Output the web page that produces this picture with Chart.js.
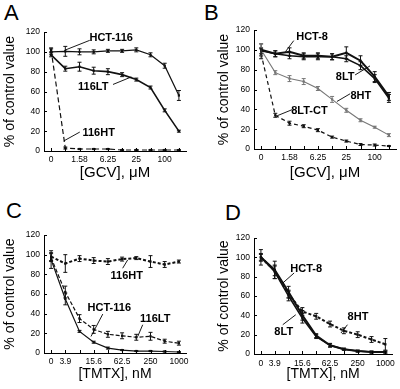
<!DOCTYPE html>
<html>
<head>
<meta charset="UTF-8">
<script src="https://cdn.jsdelivr.net/npm/chart.js"></script>
<style>
  body { margin: 0; width: 400px; height: 389px; position: relative; background: #fff; overflow: hidden;
         font-family: "Liberation Sans", Arial, sans-serif; }
  .letter { position: absolute; font-size: 22px; line-height: 22px; color: #000; }
  canvas { position: absolute; }
</style>
</head>
<body>
<div class="letter" style="left:4px;top:2px">A</div>
<div class="letter" style="left:204px;top:2px">B</div>
<div class="letter" style="left:6px;top:200px">C</div>
<div class="letter" style="left:225px;top:202px">D</div>
<canvas id="cA" width="200" height="195" style="left:0;top:0"></canvas>
<canvas id="cB" width="200" height="195" style="left:200px;top:0"></canvas>
<canvas id="cC" width="200" height="194" style="left:0;top:195px"></canvas>
<canvas id="cD" width="200" height="194" style="left:200px;top:195px"></canvas>
<script>
  // tick labels (10 concentrations each, only some labelled)
  const gcvTicks = ['0', '', '1.58', '', '6.25', '', '25', '', '100', ''];
  const tmtxTicks = ['0', '3.9', '', '15.6', '', '62.5', '', '250', '', '1000'];

  // A: GCV, HCT-116 lines
  const aHct116 = [100, 100.5, 100, 100, 101, 101, 102, 97, 86, 56];
  const aHct116Err = [3, 5, 3, 2, 1.5, 1.5, 2, 2, 2.5, 5];
  const a116LT = [97, 83, 85, 81, 80, 77, 72, 64, 41, 20];
  const a116LTErr = [2, 2.5, 4.5, 3.5, 3, 2, 1.5, 1.5, 1.5, 1];
  const a116HT = [102, 3, 2, 2, 2, 1, 1, 1, 1, 1];
  const a116HTErr = [2, 1, 0.5, 0.5, 0.5, 0.5, 0.5, 0.5, 0.5, 0.5];

  // B: GCV, HCT-8 lines
  const bHct8 = [100, 96, 98, 94, 94, 93, 97, 89, 73, 53];
  const bHct8Err = [6, 3, 4, 3, 3, 3, 6, 5, 5, 4];
  const b8LT = [99, 96, 94, 93, 93, 93, 91, 84, 71, 51];
  const b8LTErr = [3, 3, 3, 3, 3, 3, 3, 4, 4, 4];
  const b8HT = [100, 77, 71, 68, 61, 50, 39, 29, 22, 14];
  const b8HTErr = [6, 2, 3, 3, 2, 3, 2, 1.5, 1, 1.5];
  const b8LTCT = [96, 34, 26, 23, 19, 12, 8, 4.5, 4, 3];
  const b8LTCTErr = [5, 2, 2, 1.5, 1.5, 1, 1, 1, 1, 0.5];

  // C: TMTX, HCT-116 lines
  const c116HT = [98, 91, 96, 94, 93, 95.5, 96.5, 93, 90, 93];
  const c116HTErr = [4, 9, 3, 3, 3, 2, 1.5, 6, 3, 1.5];
  const c116LT = [97, 62, 35, 24, 19, 17.5, 16, 17, 12, 10];
  const c116LTErr = [4, 6, 4, 4, 3, 3, 3, 4, 2, 2];
  const cHct116 = [95, 55, 22, 11, 5, 3, 2, 2, 1.5, 1];
  const cHct116Err = [9, 6, 1, 1, 1, 0.5, 0.5, 0.5, 0.5, 0.5];

  // D: TMTX, HCT-8 lines
  const dHct8 = [100, 87, 64, 40, 19, 9, 5, 3, 2, 2];
  const dHct8Err = [8, 9, 6, 5, 2, 2, 1, 1, 1, 1];
  const d8LT = [100, 85, 60, 37, 18, 9, 5, 3, 2, 2];
  const d8LTErr = [4, 7, 5, 5, 2, 1.5, 1, 1, 1, 1];
  const d8HT = [100, 86, 62, 44, 39, 31, 24, 20, 15, 10];
  const d8HTErr = [3, 5, 4, 4, 3, 3, 3, 3, 3, 6];

  const FONT = '"Liberation Sans", Arial, sans-serif';
  const BLACK = '#111';

  const errorBars = {
    id: 'errorBars',
    afterDatasetsDraw(chart) {
      const { ctx, scales: { x, y } } = chart;
      chart.data.datasets.forEach(ds => {
        if (!ds.errors) return;
        ctx.save();
        ctx.strokeStyle = ds.borderColor;
        ctx.lineWidth = 1;
        ctx.beginPath();
        ds.data.forEach((v, j) => {
          const e = ds.errors[j];
          if (!e) return;
          const px = x.getPixelForValue(j);
          const top = y.getPixelForValue(v + e), bot = y.getPixelForValue(Math.max(0, v - e));
          ctx.moveTo(px, top); ctx.lineTo(px, bot);
          ctx.moveTo(px - 2, top); ctx.lineTo(px + 2, top);
          ctx.moveTo(px - 2, bot); ctx.lineTo(px + 2, bot);
        });
        ctx.stroke();
        ctx.restore();
      });
    }
  };

  // small tick marks pointing into the plot
  const innerTicks = {
    id: 'innerTicks',
    afterDraw(chart) {
      const { ctx, chartArea: a, scales: { x, y } } = chart;
      ctx.save();
      ctx.strokeStyle = '#000';
      ctx.lineWidth = 1;
      ctx.beginPath();
      for (let i = 0; i < 10; i++) {
        const px = Math.round(x.getPixelForValue(i)) + 0.5;
        ctx.moveTo(px, a.bottom); ctx.lineTo(px, a.bottom - 3);
      }
      y.ticks.forEach(t => {
        const py = Math.round(y.getPixelForValue(t.value)) + 0.5;
        ctx.moveTo(a.left, py); ctx.lineTo(a.left + 3, py);
      });
      ctx.stroke();
      ctx.restore();
    }
  };

  // series name labels with leader lines, placed in data units
  function callouts(list) {
    return {
      id: 'callouts',
      afterDraw(chart) {
        const { ctx, scales: { x, y } } = chart;
        ctx.save();
        ctx.fillStyle = '#000';
        ctx.strokeStyle = '#000';
        ctx.lineWidth = 0.9;
        ctx.font = 'bold 11px ' + FONT;
        ctx.textAlign = 'center';
        ctx.textBaseline = 'middle';
        list.forEach(c => {
          ctx.fillText(c.t, x.getPixelForValue(c.x), y.getPixelForValue(c.y));
          ctx.beginPath();
          ctx.moveTo(x.getPixelForValue(c.l[0]), y.getPixelForValue(c.l[1]));
          ctx.lineTo(x.getPixelForValue(c.l[2]), y.getPixelForValue(c.l[3]));
          ctx.stroke();
        });
        ctx.restore();
      }
    };
  }

  function line(label, data, errors, style) {
    return Object.assign({
      label, data, errors,
      borderColor: BLACK, backgroundColor: BLACK, borderWidth: 1.2,
      pointStyle: 'rect', pointRadius: 1.6, pointBorderWidth: 0,
      pointBackgroundColor: style && style.borderColor || BLACK,
      tension: 0, clip: false
    }, style || {});
  }

  function panel(id, p) {
    new Chart(document.getElementById(id), {
      type: 'line',
      data: { labels: p.ticks, datasets: p.datasets },
      options: {
        responsive: false, animation: false, devicePixelRatio: 1,
        layout: { padding: { left: 0, right: p.right, top: p.top, bottom: 0 } },
        plugins: { legend: { display: false }, tooltip: { enabled: false } },
        scales: {
          x: {
            type: 'category', offset: true,
            grid: { display: false, drawTicks: false },
            border: { color: '#000', width: 1 },
            ticks: { color: '#000', font: { family: FONT, size: 8.5 }, padding: p.xPad, autoSkip: false, maxRotation: 0 },
            title: { display: true, text: p.xTitle, color: '#000', font: { family: FONT, size: p.xTitleSize },
                     padding: { top: 0, bottom: p.xTitlePad } },
            afterFit: s => { s.height = p.xHeight; }
          },
          y: {
            min: 0, max: 120,
            grid: { display: false, drawTicks: false },
            border: { color: '#000', width: 1 },
            ticks: { stepSize: 20, color: '#000', font: { family: FONT, size: 8.5 }, padding: 4 },
            title: { display: true, text: '% of control value', color: '#000', font: { family: FONT, size: 14 },
                     padding: { top: p.yTitlePad, bottom: 0 } },
            afterFit: s => { s.width = p.yWidth; }
          }
        }
      },
      plugins: [errorBars, innerTicks, callouts(p.callouts)]
    });
  }

  panel('cA', {
    ticks: gcvTicks, xTitle: '[GCV], \u03bcM', xTitleSize: 15, xTitlePad: 13,
    top: 32, right: 14, yWidth: 44, xHeight: 44, xPad: 4, yTitlePad: 1.5,
    datasets: [
      line('HCT-116', aHct116, aHct116Err),
      line('116LT', a116LT, a116LTErr, { borderWidth: 1.6 }),
      line('116HT', a116HT, a116HTErr, { borderDash: [5, 3] })
    ],
    callouts: [
      { t: 'HCT-116', x: 4.23, y: 113.7, l: [2.72, 111.6, 0.96, 101.6] },
      { t: '116LT', x: 2.97, y: 64.4, l: [4.36, 67.1, 5.65, 74.7] },
      { t: '116HT', x: 3.35, y: 18.6, l: [2.02, 19.1, 0.89, 10.1] }
    ]
  });

  panel('cB', {
    ticks: gcvTicks, xTitle: '[GCV], \u03bcM', xTitleSize: 15, xTitlePad: 13,
    top: 30, right: 4, yWidth: 54, xHeight: 46, xPad: 4, yTitlePad: 15.5,
    datasets: [
      line('HCT-8', bHct8, bHct8Err, { borderWidth: 2 }),
      line('8LT', b8LT, b8LTErr, { borderWidth: 1.5 }),
      line('8HT', b8HT, b8HTErr, { borderColor: '#777', backgroundColor: '#777', borderWidth: 1.1 }),
      line('8LT-CT', b8LTCT, b8LTCTErr, { borderDash: [4, 3] })
    ],
    callouts: [
      { t: 'HCT-8', x: 3.59, y: 113, l: [2.30, 109.3, 1.72, 98.2] },
      { t: '8LT', x: 5.92, y: 72.2, l: [6.62, 74.7, 7.67, 83.8] },
      { t: '8HT', x: 7.02, y: 53.8, l: [6.27, 55.7, 5.34, 47.9] },
      { t: '8LT-CT', x: 3.40, y: 38.5, l: [2.19, 39.7, 1.13, 33.5] }
    ]
  });

  panel('cC', {
    ticks: tmtxTicks, xTitle: '[TMTX], nM', xTitleSize: 14, xTitlePad: 6,
    top: 40, right: 14, yWidth: 44, xHeight: 36, xPad: 4, yTitlePad: 1.5,
    datasets: [
      line('116HT', c116HT, c116HTErr, { borderDash: [3, 2], borderWidth: 2 }),
      line('116LT', c116LT, c116LTErr, { borderDash: [4, 2] }),
      line('HCT-116', cHct116, cHct116Err)
    ],
    callouts: [
      { t: '116HT', x: 5.33, y: 78.6, l: [5.04, 86.2, 5.39, 94.6] },
      { t: 'HCT-116', x: 4.10, y: 45.6, l: [3.64, 39.6, 2.81, 16.8] },
      { t: '116LT', x: 7.33, y: 34.6, l: [6.45, 28.7, 6.10, 16.8] }
    ]
  });

  panel('cD', {
    ticks: tmtxTicks, xTitle: '[TMTX], nM', xTitleSize: 14, xTitlePad: 6,
    top: 43, right: 4, yWidth: 54, xHeight: 35, xPad: 5, yTitlePad: 15.5,
    datasets: [
      line('HCT-8', dHct8, dHct8Err, { borderWidth: 2 }),
      line('8LT', d8LT, d8LTErr, { borderWidth: 1.5 }),
      line('8HT', d8HT, d8HTErr, { borderDash: [3, 2], borderWidth: 2 })
    ],
    callouts: [
      { t: 'HCT-8', x: 3.28, y: 88.4, l: [2.40, 83.8, 1.58, 73.4] },
      { t: '8LT', x: 1.65, y: 22.5, l: [1.58, 30.3, 2.52, 40.6] },
      { t: '8HT', x: 7.02, y: 38.6, l: [6.26, 30.3, 5.79, 21.7] }
    ]
  });
</script>
</body>
</html>
